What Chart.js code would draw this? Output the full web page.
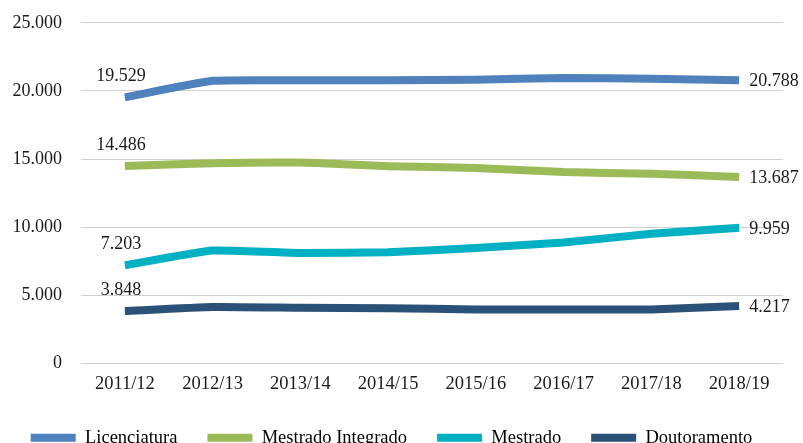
<!DOCTYPE html>
<html>
<head>
<meta charset="utf-8">
<script src="https://cdn.jsdelivr.net/npm/chart.js@4.4.1/dist/chart.umd.min.js"></script>
<style>
  html, body { margin: 0; padding: 0; background: #fff; overflow: hidden; }
  #wrap { width: 803px; height: 464px; margin-top: -7px; }
</style>
</head>
<body>
<div id="wrap"><canvas id="c" width="803" height="464"></canvas></div>
<script>
const categories = ["2011/12", "2012/13", "2013/14", "2014/15", "2015/16", "2016/17", "2017/18", "2018/19"];
const licenciatura = [19529, 20740, 20780, 20780, 20820, 20950, 20900, 20788];
const mestradoIntegrado = [14486, 14700, 14740, 14480, 14340, 14050, 13920, 13687];
const mestrado = [7203, 8290, 8110, 8160, 8480, 8880, 9520, 9959];
const doutoramento = [3848, 4140, 4090, 4060, 3970, 3960, 3970, 4217];
const seriesNames = ["Licenciatura", "Mestrado Integrado", "Mestrado", "Doutoramento"];
const seriesColors = ["#4F81BD", "#9BBB59", "#00B0C3", "#2C5178"];
const yTicks = [0, 5000, 10000, 15000, 20000, 25000];

const FONT = "'Liberation Serif', 'Times New Roman', serif";
const fmt = v => String(Math.round(v)).replace(/\B(?=(\d{3})+(?!\d))/g, ".");

const endLabels = {
  id: 'endLabels',
  afterDatasetsDraw(chart) {
    const ctx = chart.ctx;
    ctx.save();
    ctx.font = "18px " + FONT;
    ctx.fillStyle = "#1a1a1a";
    chart.data.datasets.forEach((ds, i) => {
      const meta = chart.getDatasetMeta(i);
      const first = meta.data[0];
      const last = meta.data[meta.data.length - 1];
      ctx.textAlign = "center";
      ctx.textBaseline = "middle";
      ctx.fillText(fmt(ds.data[0]), first.x - 4, first.y - 21);
      ctx.textAlign = "left";
      ctx.fillText(fmt(ds.data[ds.data.length - 1]), last.x + 10, last.y + 1);
    });
    ctx.restore();
  }
};

const allSeries = [licenciatura, mestradoIntegrado, mestrado, doutoramento];

new Chart(document.getElementById('c'), {
  type: 'line',
  data: {
    labels: categories,
    datasets: allSeries.map((d, i) => ({
      label: seriesNames[i],
      data: d,
      borderColor: seriesColors[i],
      backgroundColor: seriesColors[i],
      borderWidth: 8,
      borderCapStyle: 'butt',
      pointRadius: 0,
      tension: 0.15,
      fill: false
    }))
  },
  options: {
    responsive: false,
    animation: false,
    layout: { padding: { top: 5, right: 20, left: 0, bottom: 0 } },
    plugins: {
      legend: {
        position: 'bottom',
        labels: {
          font: { family: FONT, size: 18.5 },
          color: '#1a1a1a',
          boxWidth: 45,
          boxHeight: 8,
          padding: 30,
          generateLabels(chart) {
            return chart.data.datasets.map((ds, i) => ({
              text: ds.label,
              fillStyle: ds.borderColor,
              strokeStyle: ds.borderColor,
              lineWidth: 0,
              datasetIndex: i,
              hidden: false
            }));
          }
        }
      },
      tooltip: { enabled: false }
    },
    scales: {
      x: {
        offset: true,
        afterFit(scale) { scale.height = 35; },
        grid: { display: false, drawTicks: false },
        border: { display: false },
        ticks: { font: { family: FONT, size: 18.5 }, color: '#1a1a1a', padding: 10, maxRotation: 0 }
      },
      y: {
        min: 0, max: 25000,
        afterFit(scale) { scale.width = 81; },
        afterBuildTicks(scale) { scale.ticks = yTicks.map(v => ({ value: v })); },
        grid: { color: '#d0d0d0', lineWidth: 1, drawTicks: false },
        border: { display: false },
        ticks: { font: { family: FONT, size: 18 }, color: '#1a1a1a', padding: 19, callback: v => fmt(v) }
      }
    }
  },
  plugins: [endLabels]
});
</script>
</body>
</html>
